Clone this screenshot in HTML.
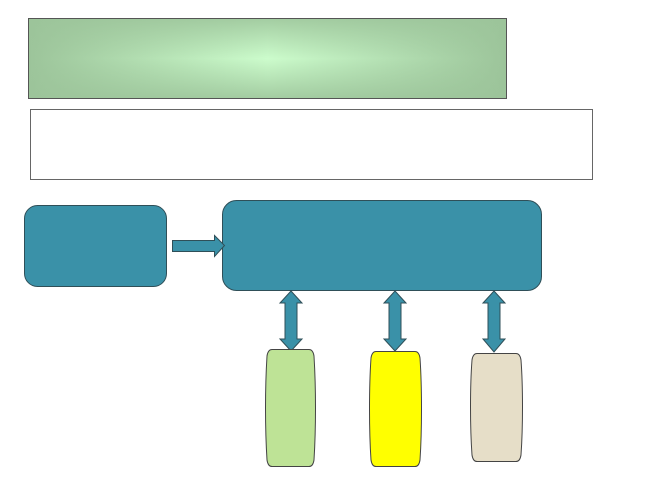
<!DOCTYPE html>
<html><head><meta charset="utf-8"><style>html,body{margin:0;padding:0;background:#fff}svg{display:block}</style></head>
<body>
<svg width="660" height="480" viewBox="0 0 660 480" xmlns="http://www.w3.org/2000/svg">
<defs>
<linearGradient id="h" x1="0" y1="0" x2="1" y2="0">
<stop offset="0" stop-color="#9cc49a"/><stop offset="0.5" stop-color="#ccfccc"/><stop offset="1" stop-color="#9cc49a"/>
</linearGradient>
<linearGradient id="v" x1="0" y1="0" x2="0" y2="1">
<stop offset="0" stop-color="#9cc49a" stop-opacity="1"/><stop offset="0.5" stop-color="#9cc49a" stop-opacity="0"/><stop offset="1" stop-color="#9cc49a" stop-opacity="1"/>
</linearGradient>
</defs>
<rect x="28.5" y="18.5" width="478" height="80" fill="url(#h)"/>
<rect x="28.5" y="18.5" width="478" height="80" fill="url(#v)" opacity="0.85"/>
<rect x="28.5" y="18.5" width="478" height="80" fill="none" stroke="#555"/>
<rect x="30.5" y="109.5" width="562" height="70" fill="#fff" stroke="#666"/>
<rect x="24.5" y="205.5" width="142" height="81" rx="13" fill="#3a91a8" stroke="#2f4f58"/>
<rect x="222.5" y="200.5" width="319" height="90" rx="14" fill="#3a91a8" stroke="#2f4f58"/>
<path d="M172.5 240.5 H214.5 V235.5 L224.5 245.5 L214.5 256.5 V251.5 H172.5 Z" fill="#3a91a8" stroke="#2f4f58"/>
<g fill="#3a91a8" stroke="#2f4f58">
<path d="M291 291 L302 303 H297 V339 H302 L291 351 L280 339 H285 V303 H280 Z"/>
<path d="M395 291 L406 303 H401 V339 H406 L395 351 L384 339 H389 V303 H384 Z"/>
<path d="M494 291 L505 303 H500 V339 H505 L494 352 L483 339 H488 V303 H483 Z"/>
</g>
<g stroke="#444" stroke-width="1">
<path d="M272 349.5 H309 Q313 349.5 314 356 Q315.5 380 315.5 408 Q315.5 436 314 460 Q313 466.5 309 466.5 H272 Q268 466.5 267 460 Q265.5 436 265.5 408 Q265.5 380 267 356 Q268 349.5 272 349.5 Z" fill="#bee396"/>
<path d="M376 351.5 H415 Q419 351.5 420 358 Q421.5 380 421.5 409 Q421.5 438 420 460 Q419 466.5 415 466.5 H376 Q372 466.5 371 460 Q369.5 438 369.5 409 Q369.5 380 371 358 Q372 351.5 376 351.5 Z" fill="#ffff00"/>
<path d="M477 353.5 H516 Q520 353.5 521 360 Q522.5 380 522.5 407 Q522.5 434 521 455 Q520 461.5 516 461.5 H477 Q473 461.5 472 455 Q470.5 434 470.5 407 Q470.5 380 472 360 Q473 353.5 477 353.5 Z" fill="#e6dec8"/>
</g>
</svg>
</body></html>
